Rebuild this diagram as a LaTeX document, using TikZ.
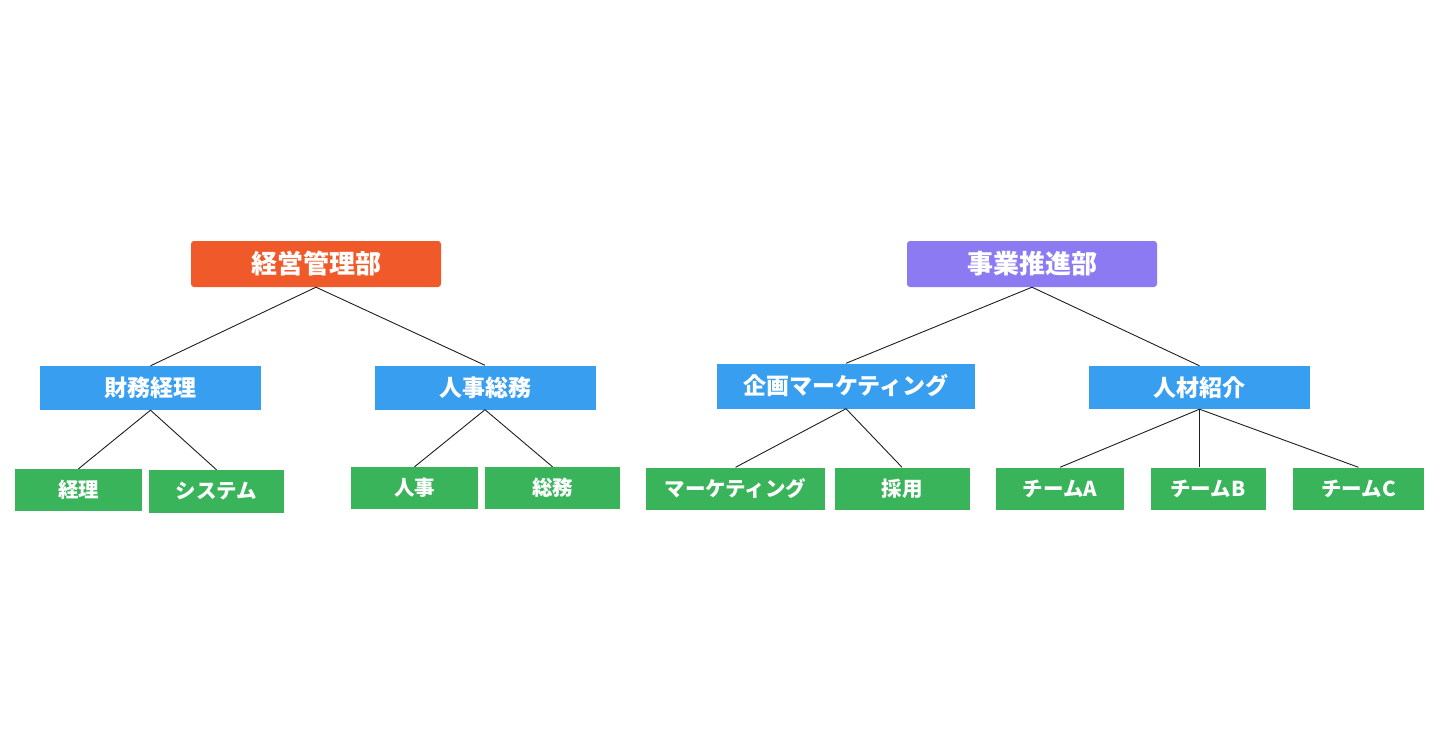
\documentclass[tikz,border=0pt]{standalone}
\usepackage{fontspec}
\setmainfont{Noto Sans CJK JP}
\usepackage{tikz}
\definecolor{orangef}{RGB}{240,90,42}
\definecolor{violetf}{RGB}{140,122,242}
\definecolor{bleu}{RGB}{56,158,240}
\definecolor{vert}{RGB}{58,180,90}
\definecolor{trait}{RGB}{30,30,30}

\begin{document}
\begin{tikzpicture}[x=1pt, y=-1pt,
	boite/.style={text=white, inner sep=0pt, align=center},
	chef/.style={boite, rounded corners=3pt, minimum width=250pt, minimum height=46pt, font=\fontsize{26}{28}\selectfont\bfseries},
	service/.style={boite, fill=bleu, minimum height=44pt, font=\fontsize{23}{25}\selectfont\bfseries},
	equipe/.style={boite, fill=vert, minimum height=42pt, font=\fontsize{20.5}{23}\selectfont\bfseries},
	lien/.style={trait, line width=0.9pt}]
	\useasboundingbox (0,0) rectangle (1440,754);
	
	% direction 1 : gestion
	\node[chef, fill=orangef] (gestion) at (316,264) {経営管理部};
	\node[service, minimum width=221pt] (finance) at (150.5,388) {財務経理};
	\node[service, minimum width=221pt] (rh) at (485,387.5) {人事総務};
	\node[equipe, minimum width=127pt] (compta) at (78.5,490) {経理};
	\node[equipe, minimum width=135pt, minimum height=43pt] (systeme) at (216.5,491.5) {システム};
	\node[equipe, minimum width=127pt] (personnel) at (414.5,488) {人事};
	\node[equipe, minimum width=135pt] (affaires) at (552.5,488) {総務};
	
	% direction 2 : projets
	\node[chef, fill=violetf] (projets) at (1032,264) {事業推進部};
	\node[service, minimum width=258pt, minimum height=45pt] (plan) at (846,386) {企画マーケティング};
	\node[service, minimum width=221pt, minimum height=43pt] (talents) at (1199.5,387.5) {人材紹介};
	\node[equipe, minimum width=179pt] (marketing) at (735.5,488.5) {マーケティング};
	\node[equipe, minimum width=135pt] (recrut) at (902,488.5) {採用};
	\node[equipe, minimum width=128pt] (teamA) at (1060,488.5) {チームA};
	\node[equipe, minimum width=115pt] (teamB) at (1208,488.5) {チームB};
	\node[equipe, minimum width=131pt] (teamC) at (1358.5,488.5) {チームC};
	
	% liens
	\draw[lien] (gestion.south) -- (finance.north);
	\draw[lien] (gestion.south) -- (rh.north);
	\draw[lien] (finance.south) -- (compta.north);
	\draw[lien] (finance.south) -- (systeme.north);
	\draw[lien] (rh.south) -- (personnel.north);
	\draw[lien] (rh.south) -- (affaires.north);
	\draw[lien] (projets.south) -- (plan.north);
	\draw[lien] (projets.south) -- (talents.north);
	\draw[lien] (plan.south) -- (marketing.north);
	\draw[lien] (plan.south) -- (recrut.north);
	\draw[lien] (talents.south) -- (teamA.north);
	\draw[lien] (talents.south) -- (talents.south |- teamB.north);
	\draw[lien] (talents.south) -- (teamC.north);
\end{tikzpicture}
\end{document}
